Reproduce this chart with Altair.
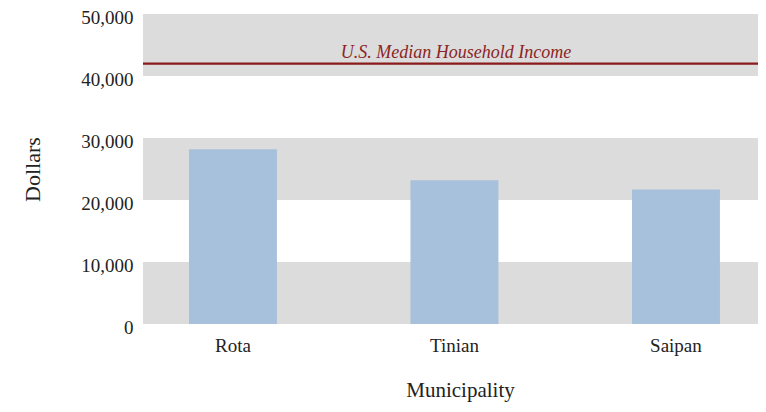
import altair as alt
import pandas as pd

municipalities = ["Rota", "Tinian", "Saipan"]
incomes = [28200, 23200, 21700]
band_starts = [0, 20000, 40000]
band_ends = [10000, 30000, 50000]
us_median = [41994]
us_label = ["U.S. Median Household Income"]

W, H = 615, 310
FONT = "Liberation Serif"

bars_df = pd.DataFrame({"Municipality": municipalities, "Income": incomes})
bands_df = pd.DataFrame({"y0": band_starts, "y1": band_ends})
med_df = pd.DataFrame({"v": us_median, "label": us_label})

yscale = alt.Scale(domain=[0, 50000], nice=False)

bands = alt.Chart(bands_df).mark_rect(color="#dcdcdc").encode(
    x=alt.value(0), x2=alt.value(623),
    y=alt.Y("y0:Q", scale=yscale,
            axis=alt.Axis(title="Dollars", values=[0, 10000, 20000, 30000, 40000, 50000],
                          format=",d", grid=False, ticks=False, domain=False,
                          labelPadding=10, labelOffset=3, titlePadding=36)),
    y2="y1:Q",
)

bars = alt.Chart(bars_df).mark_bar(color="#a7c0db").encode(
    x=alt.X("Municipality:N", sort=municipalities,
            scale=alt.Scale(range=[-20.8, 643.7], paddingInner=0.603, paddingOuter=0.3015),
            axis=alt.Axis(title="Municipality", labelAngle=0, ticks=False, domain=False,
                          labelPadding=12, titlePadding=24, titleFontSize=21, titleX=317)),
    y=alt.Y("Income:Q", scale=yscale),
)

line = alt.Chart(med_df).mark_rule(color="#8b1a1a", strokeWidth=2.2).encode(
    x=alt.value(0), x2=alt.value(623),
    y=alt.Y("v:Q", scale=yscale),
)

text = alt.Chart(med_df).mark_text(
    color="#8b2525", font=FONT, fontStyle="italic", fontSize=18,
    align="center", baseline="alphabetic", dy=-6,
).encode(
    x=alt.value(313),
    y=alt.Y("v:Q", scale=yscale),
    text="label:N",
)

chart = alt.layer(bands, bars, line, text).properties(
    width=W, height=H,
    autosize=alt.AutoSizeParams(type="none"),
    padding={"left": 135, "top": 6, "right": 0, "bottom": 80},
).configure_view(stroke=None).configure_axis(
    labelFont=FONT, titleFont=FONT, labelFontSize=19, titleFontSize=22,
    labelColor="#222222", titleColor="#222222", titleFontWeight="normal",
)

chart.save("out.html", embed_options={"renderer": "svg", "actions": False})
